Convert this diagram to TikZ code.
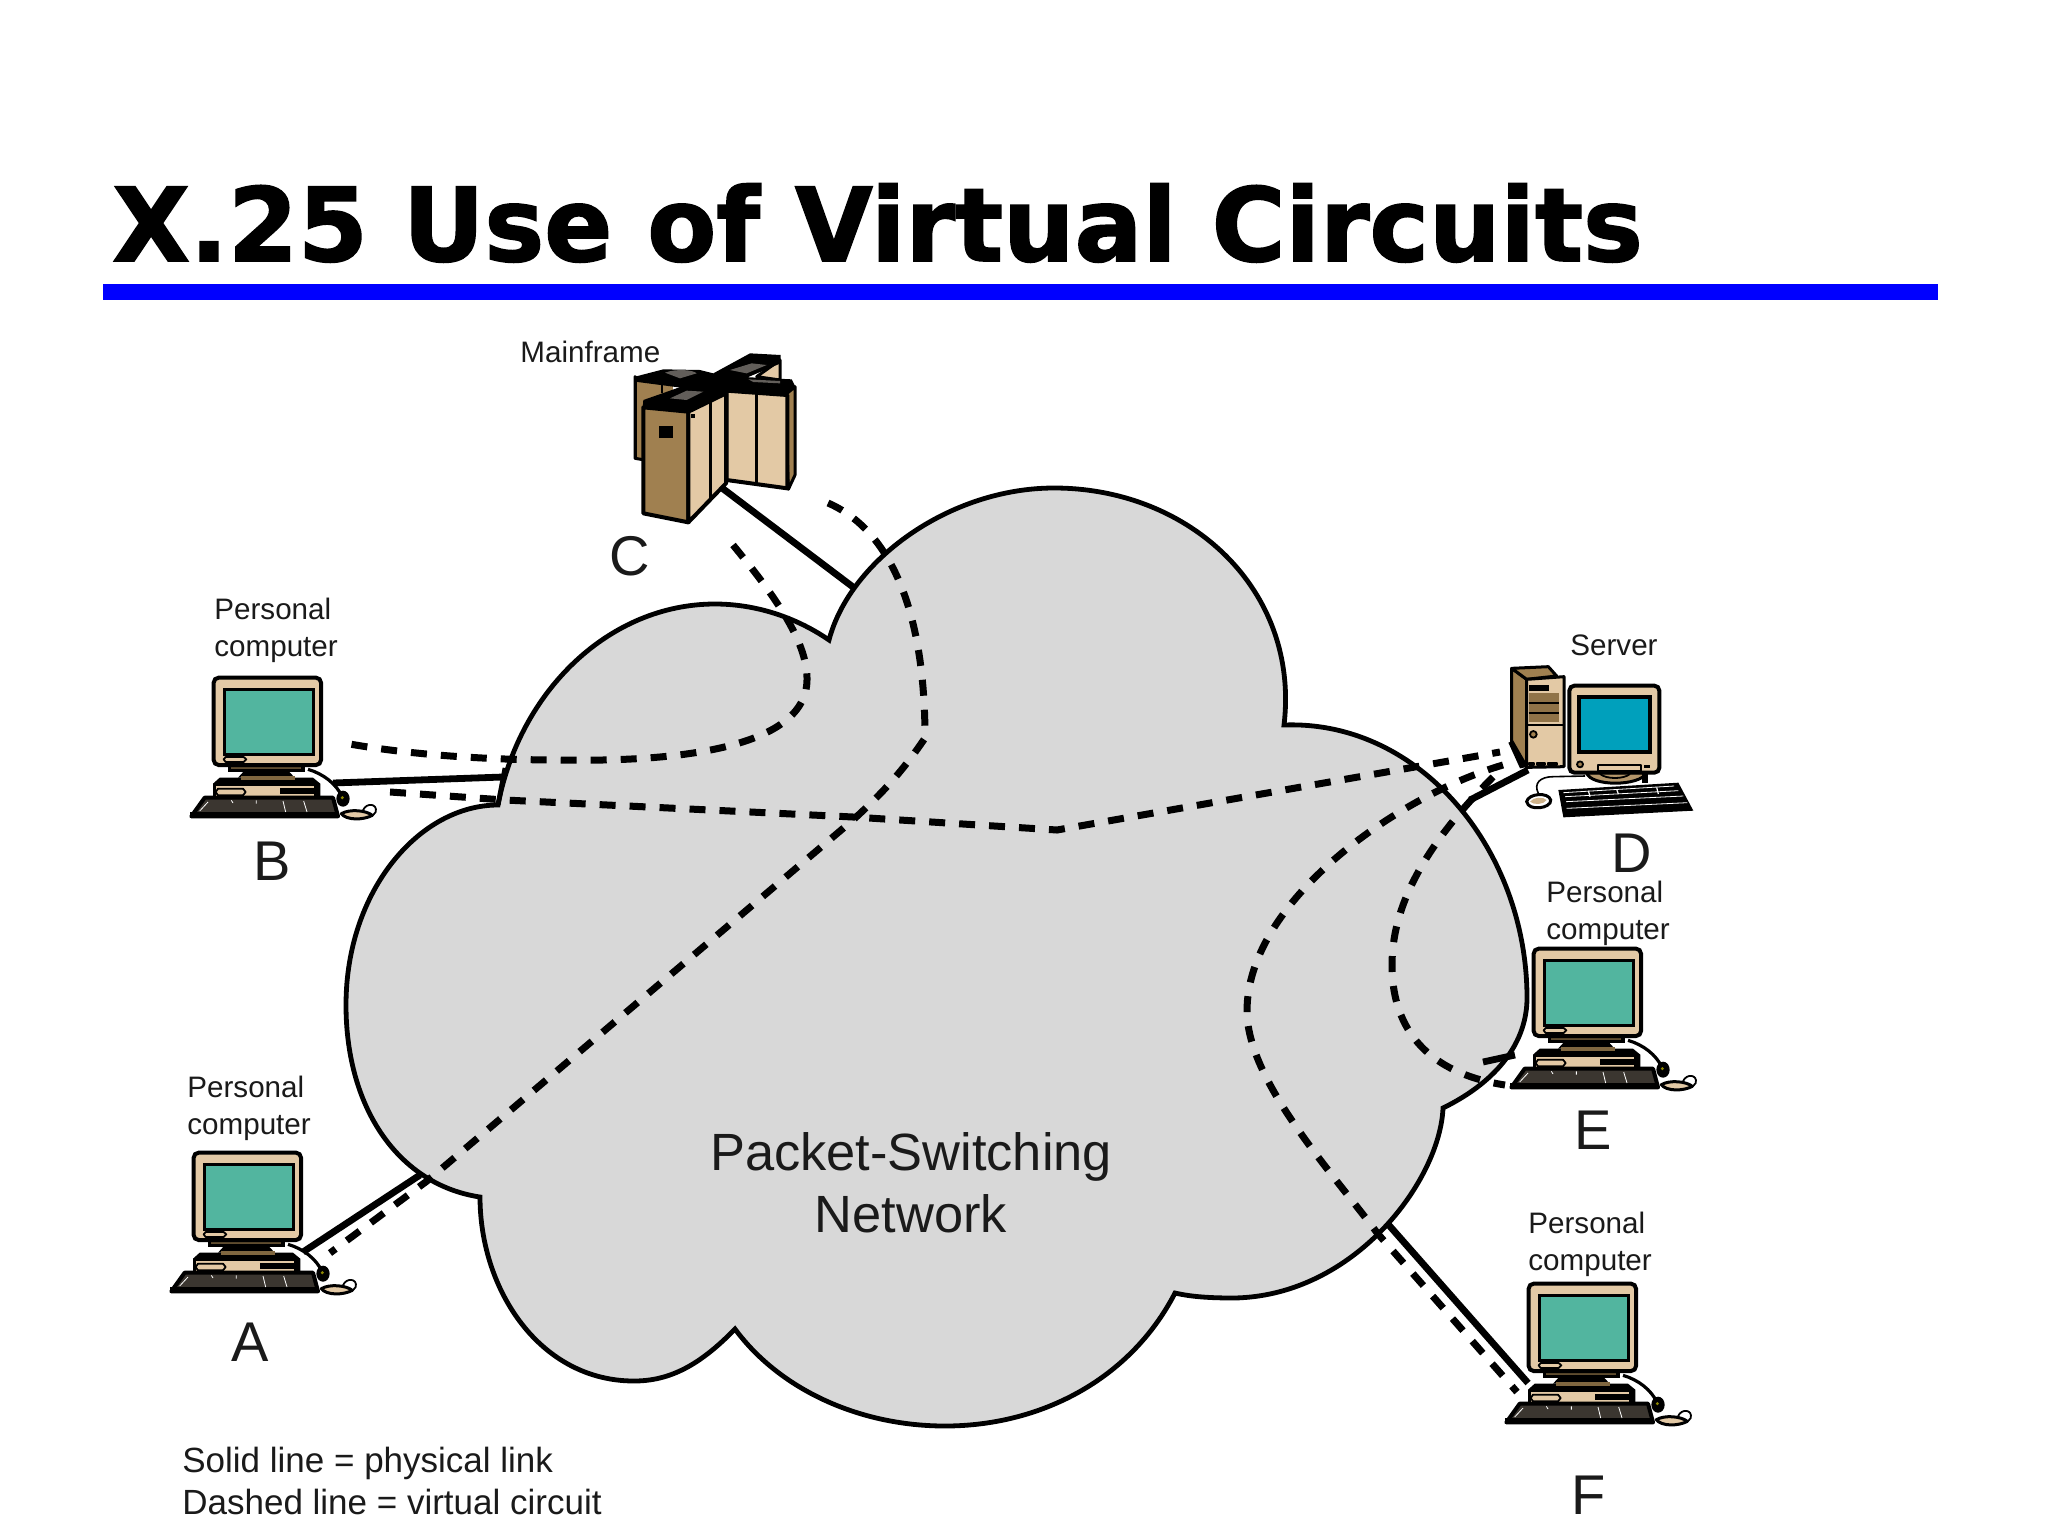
\documentclass[tikz,border=0pt]{standalone}
\usepackage{fontspec}
\setmainfont{Liberation Sans}
\newfontfamily\titlefont{DejaVu Sans}[BoldFeatures={FakeBold=1.6,FakeStretch=0.985}]
\definecolor{tanc}{HTML}{E3C9A5}
\definecolor{brownc}{HTML}{A08050}
\definecolor{tealc}{HTML}{52B59F}
\definecolor{cyanc}{HTML}{00A0BC}
\definecolor{keyc}{HTML}{3B3630}
\definecolor{cloudc}{HTML}{D8D8D8}
\definecolor{inkc}{HTML}{1A1A1A}
\tikzset{
  cloudshape/.style={draw=black,fill=cloudc,line width=2.4pt,line join=miter},
  solidlink/.style={draw=black,line width=3.4pt},
  dashlink/.style={draw=black,line width=3.5pt,dash pattern=on 8pt off 7pt},
  smalllabel/.style={font=\fontsize{14.8}{18.5}\selectfont,text=inkc,align=left,anchor=west,inner sep=0pt},
  letterlabel/.style={font=\fontsize{28}{30}\selectfont,text=inkc,inner sep=0pt},
  partline/.style={draw=black,line width=1.5pt,line join=round},
  thinline/.style={draw=black,line width=0.9pt,line join=round},
  pcunit/.pic={
    \begin{scope}[x=0.16667pt,y=-0.16667pt,shift={(-190,-290)}]
      % mouse wire
      \draw[black,line width=1.6pt] (475,567) .. controls (520,580) and (560,610) .. (578,650);
      \fill[black] (580,655) ellipse (20 and 24);
      \fill[olive] (578,652) circle (5);
      % mouse
      \draw[thinline,fill=white] (640,690) .. controls (650,665) and (685,670) .. (678,695) .. controls (672,712) and (650,705) .. (640,690);
      \draw[partline,fill=tanc] (575,700) .. controls (600,685) and (650,690) .. (668,705) .. controls (640,720) and (590,720) .. (575,700) -- cycle;
      % CPU
      \fill[black] (190,610) -- (210,592) -- (490,592) -- (512,610) -- (512,655) -- (190,655) -- cycle;
      \fill[tanc] (198,618) rectangle (492,648);
      \draw[thinline,fill=tanc] (205,625) -- (280,625) -- (288,635) -- (280,645) -- (205,645) -- (198,635) -- cycle;
      \fill[black] (392,622) rectangle (492,640);
      % keyboard
      \fill[keyc] (125,705) -- (165,652) -- (550,652) -- (565,705) -- cycle;
      \draw[black,line width=2pt,line join=round] (125,708) -- (165,652) -- (550,652) -- (565,708) -- cycle;
      \fill[black] (122,695) rectangle (568,714);
      \draw[white,line width=0.4pt] (245,660) -- (250,668) (320,660) -- (320,670) (400,662) -- (408,695) (462,662) -- (472,695) (150,692) -- (175,665);
      % stand
      \fill[black] (235,555) rectangle (465,575);
      \fill[black] (285,570) -- (415,570) -- (435,592) -- (265,592) -- cycle;
      \fill[brownc!80!black] (275,588) rectangle (435,600);
      \fill[brownc!60!black] (245,558) rectangle (455,565);
      % monitor
      \draw[black,line width=2pt,fill=tanc,rounded corners=2.5pt] (192,292) rectangle (514,554);
      \draw[black,line width=1.5pt,fill=tealc] (224,326) rectangle (490,522);
      \draw[thinline,fill=tanc] (228,530) -- (282,530) -- (290,537) -- (282,545) -- (228,545) -- (222,537) -- cycle;
    \end{scope}
  }
}
\begin{document}
\begin{tikzpicture}[x=0.5pt,y=-0.5pt]
\useasboundingbox (0,0) rectangle (2048,1536);
\fill[white] (0,0) rectangle (2048,1536);
% title
\node[anchor=base west,inner sep=0pt,font=\titlefont\bfseries\fontsize{51}{56}\selectfont,text=black] (title) at (112,261) {X.25 Use of Virtual Circuits};
\fill[blue] (103,284) rectangle (1938,300);
% cloud
\path[cloudshape] (498,805) .. controls (520,690) and (610,604) .. (715,604) .. controls (760,604) and (800,620) .. (829,640)
  .. controls (850,560) and (950,488) .. (1054,488) .. controls (1190,488) and (1300,590) .. (1284,725)
  .. controls (1420,720) and (1527,850) .. (1527,998) .. controls (1527,1040) and (1500,1080) .. (1443,1108)
  .. controls (1440,1180) and (1355,1296) .. (1234,1298) .. controls (1212,1298) and (1192,1297) .. (1175,1293)
  .. controls (1130,1380) and (1040,1426) .. (945,1426) .. controls (860,1426) and (780,1390) .. (735,1329)
  .. controls (700,1365) and (670,1381) .. (634,1381) .. controls (540,1381) and (480,1290) .. (480,1197)
  .. controls (400,1185) and (346,1110) .. (346,1005) .. controls (346,890) and (420,805) .. (498,805) -- cycle;
\draw[cloudshape,fill=none] (498,805) -- (505,768);
% computers
\pic at (213,677) {pcunit};
\pic at (193,1152) {pcunit};
\pic at (1533,948) {pcunit};
\pic at (1528,1283) {pcunit};
% mainframe
\begin{scope}[shift={(500,320)},x=0.16667pt,y=-0.16667pt]
  \draw[partline,fill=brownc] (405,170) -- (405,415) -- (435,420) -- (435,200) -- cycle;
  \fill[brownc] (405,175) rectangle (520,260);
  \draw[partline] (405,170) -- (405,415);
  \draw[thinline] (487,185) -- (487,220);
  \draw[partline,fill=tanc] (770,170) -- (840,120) -- (840,180) -- cycle;
  \fill[black] (405,170) -- (490,148) -- (600,150) -- (640,160) -- (750,100) -- (842,105) -- (842,130) -- (700,190) -- (640,215) -- (520,200) -- (405,185) -- cycle;
  \fill[keyc!80!white] (690,150) -- (755,130) -- (800,135) -- (740,160) -- cycle;
  \fill[keyc!80!white] (495,158) .. controls (530,145) and (580,150) .. (590,160) -- (540,175) -- cycle;
  % right wing
  \draw[partline,fill=brownc] (855,225) -- (885,200) -- (885,465) -- (865,508) -- cycle;
  \draw[partline,line width=2pt,fill=tanc] (680,212) -- (862,225) -- (862,505) -- (680,480) -- cycle;
  \draw[partline] (770,220) -- (770,490);
  % front cabinet
  \draw[partline,line width=2pt,fill=brownc] (430,262) -- (565,275) -- (565,607) -- (430,580) -- cycle;
  \draw[partline,line width=2pt,fill=tanc] (565,275) -- (678,220) -- (678,490) -- (565,607) -- cycle;
  \draw[partline] (630,245) -- (630,540);
  \fill[black] (478,318) rectangle (518,355);
  \fill[black] (572,282) rectangle (584,294);
  % top
  \fill[black] (428,262) -- (430,240) -- (510,212) -- (640,165) -- (750,172) -- (875,178) -- (886,200) -- (862,225) -- (680,215) -- (565,278) -- cycle;
  \fill[keyc!80!white] (510,235) -- (560,212) -- (610,215) -- (560,240) -- cycle;
  \fill[keyc!80!white] (745,178) -- (840,183) -- (840,190) -- (760,186) -- cycle;
\end{scope}
% server
\begin{scope}[shift={(1400,620)},x=0.16667pt,y=-0.16667pt]
  \draw[partline,fill=brownc] (335,145) -- (380,178) -- (380,442) -- (335,372) -- cycle;
  \draw[partline,fill=brownc] (335,145) -- (445,140) -- (470,168) -- (380,178) -- cycle;
  \draw[partline,fill=tanc] (380,178) -- (492,170) -- (492,440) -- (380,442) -- cycle;
  \fill[brownc!90!black] (386,220) rectangle (478,305);
  \fill[black] (386,195) rectangle (446,212);
  \draw[thinline] (386,250) -- (478,250) (386,280) -- (478,280) (380,315) -- (492,315);
  \draw[thinline,fill=brownc] (400,343) circle (10);
  \draw[thinline,fill=tanc] (386,428) rectangle (402,436) (410,428) rectangle (436,436) (444,428) rectangle (470,436);
  \fill[black] (325,368) -- (340,362) -- (385,440) -- (360,445) -- cycle;
  % stand
  \draw[partline,fill=brownc!70!tanc] (560,458) .. controls (570,500) and (720,500) .. (740,458) -- cycle;
  \draw[thinline] (600,462) .. controls (620,478) and (670,478) .. (690,462);
  \fill[black] (725,458) rectangle (745,490);
  % monitor
  \draw[black,line width=2pt,fill=tanc,rounded corners=2.5pt] (508,197) rectangle (778,458);
  \draw[black,line width=2pt,fill=cyanc] (536,232) rectangle (750,396);
  \draw[thinline,fill=tanc] (593,436) rectangle (722,452);
  \draw[thinline,fill=brownc] (540,433) circle (9);
  \fill[black] (732,434) rectangle (750,444);
  % keyboard
  \fill[black] (475,510) -- (835,488) -- (880,572) -- (490,592) -- cycle;
  \draw[white,line width=0.4pt] (490,518) -- (822,498) (495,530) -- (835,512) (498,545) -- (850,528) (500,565) -- (862,548);
  \draw[white,line width=0.6pt] (565,512) -- (570,530) (650,508) -- (655,522) (770,502) -- (775,522);
  % mouse
  \draw[black,line width=0.8pt] (415,520) .. controls (400,490) and (420,470) .. (460,470) -- (555,468);
  \draw[black,line width=1.5pt,fill=white] (380,545) .. controls (385,520) and (445,515) .. (452,540) .. controls (455,565) and (385,575) .. (380,545) -- cycle;
  \fill[tanc!70!brownc] (390,545) .. controls (400,530) and (430,530) .. (440,540) .. controls (430,555) and (400,555) .. (390,545) -- cycle;
\end{scope}
% link end points
\coordinate (bPort) at (333,783);
\coordinate (bCloud) at (503,777);
\coordinate (cPort) at (722,488);
\coordinate (cCloud) at (853,587);
\coordinate (dPort) at (1528,770);
\coordinate (dCloud) at (1470,800);
\coordinate (ePort) at (1515,1055);
\coordinate (eCloud) at (1483,1062);
\coordinate (aPort) at (303,1252);
\coordinate (aCloud) at (420,1175);
\coordinate (fPort) at (1528,1383);
\coordinate (fCloud) at (1387,1223);
% solid links
\draw[solidlink] (bPort) -- (bCloud);
\draw[solidlink] (cPort) -- (cCloud);
\draw[solidlink] (dPort) -- (dCloud);
\draw[solidlink] (ePort) -- (eCloud);
\draw[solidlink] (aPort) -- (aCloud);
\draw[solidlink] (fPort) -- (fCloud);
% dashed circuits
\coordinate (cDashL) at (733,545);
\coordinate (bDashU) at (344,743);
\coordinate (cDashR) at (828,503);
\coordinate (aDash) at (330,1253);
\coordinate (bDashL) at (390,792);
\coordinate (dDashU) at (1500,752);
\coordinate (dDashM) at (1503,765);
\coordinate (fDash) at (1517,1392);
\coordinate (dDashB) at (1493,777);
\coordinate (eDash) at (1505,1085);
\draw[dashlink] (cDashL) .. controls (770,590) and (808,640) .. (807,680) .. controls (806,750) and (670,762) .. (560,760) .. controls (490,760) and (410,755) .. (bDashU);
\draw[dashlink] (cDashR) .. controls (890,530) and (925,610) .. (925,738) .. controls (900,775) and (880,795) .. (853,820) -- (427,1181) -- (aDash);
\draw[dashlink] (bDashL) -- (505,800) -- (853,817) -- (1057,830) -- (dDashU);
\draw[dashlink] (dDashM) .. controls (1400,795) and (1247,900) .. (1247,1011) .. controls (1247,1080) and (1330,1170) .. (1378,1234) -- (fDash);
\draw[dashlink] (dDashB) .. controls (1420,850) and (1392,910) .. (1392,965) .. controls (1392,1040) and (1440,1075) .. (eDash);
% labels
\node[smalllabel] (mainL) at (520,352) {Mainframe};
\node[smalllabel] (servL) at (1570,645) {Server};
\node[smalllabel] (pcB) at (214,630) {Personal\\computer};
\node[smalllabel] (pcA) at (187,1108) {Personal\\computer};
\node[smalllabel] (pcE) at (1546,913) {Personal\\computer};
\node[smalllabel] (pcF) at (1528,1244) {Personal\\computer};
\node[letterlabel] (lA) at (250,1342) {A};
\node[letterlabel] (lB) at (272,861) {B};
\node[letterlabel] (lC) at (630,556) {C};
\node[letterlabel] (lD) at (1632,853) {D};
\node[letterlabel] (lE) at (1593,1130) {E};
\node[letterlabel] (lF) at (1589,1495) {F};
\node[align=center,inner sep=0pt,text=inkc,font=\fontsize{26.2}{31}\selectfont] (net) at (911,1183) {Packet-Switching\\Network};
\node[anchor=west,align=left,inner sep=0pt,text=inkc,font=\fontsize{17.5}{21}\selectfont] (legend) at (182,1481) {Solid line = physical link\\Dashed line = virtual circuit};
\end{tikzpicture}
\end{document}
